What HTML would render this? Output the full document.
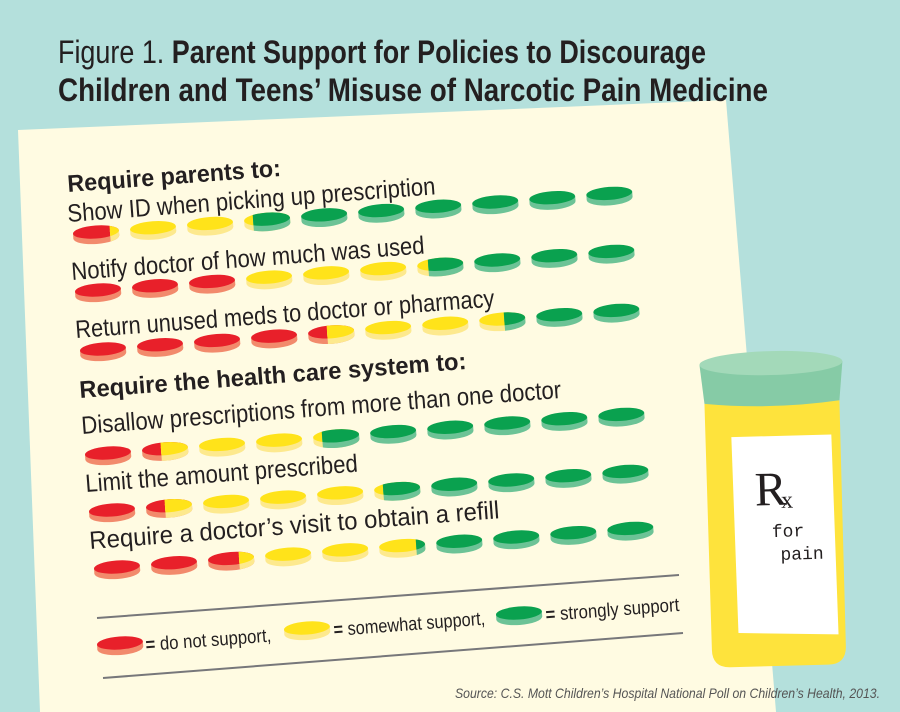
<!DOCTYPE html>
<html><head><meta charset="utf-8"><style>
html,body{margin:0;padding:0;}
body{width:900px;height:712px;overflow:hidden;background:#b4e0dc;}
svg{display:block;}
.n{font-family:"Liberation Sans Narrow","Liberation Sans",sans-serif;}
</style></head><body>
<svg width="900" height="712" viewBox="0 0 900 712" xmlns="http://www.w3.org/2000/svg">
<defs>
<g id="R"><ellipse cx="0" cy="4" rx="23" ry="7" fill="#f28a6c"/><rect x="-23" y="-1" width="46" height="5" fill="#f28a6c"/><ellipse cx="0" cy="-1" rx="23" ry="6.5" fill="#e8202a"/></g>
<g id="Y"><ellipse cx="0" cy="4" rx="23" ry="7" fill="#fde98e"/><rect x="-23" y="-1" width="46" height="5" fill="#fde98e"/><ellipse cx="0" cy="-1" rx="23" ry="6.5" fill="#ffe31a"/></g>
<g id="G"><ellipse cx="0" cy="4" rx="23" ry="7" fill="#6cc396"/><rect x="-23" y="-1" width="46" height="5" fill="#6cc396"/><ellipse cx="0" cy="-1" rx="23" ry="6.5" fill="#0aa14f"/></g>
<clipPath id="cm14"><rect x="-14" y="-20" width="50" height="40"/></clipPath>
<clipPath id="cm12"><rect x="-12" y="-20" width="50" height="40"/></clipPath>
<clipPath id="cm4"><rect x="-4" y="-20" width="50" height="40"/></clipPath>
<clipPath id="c2"><rect x="2" y="-20" width="50" height="40"/></clipPath>
<clipPath id="c8"><rect x="8" y="-20" width="50" height="40"/></clipPath>
<clipPath id="c14"><rect x="14" y="-20" width="50" height="40"/></clipPath>
</defs>

<polygon points="18,130 726,100 776,712 40,712" fill="#fffbe2"/>

<text x="58" y="63" class="n" font-size="32" fill="#231f20" textLength="648" lengthAdjust="spacingAndGlyphs"><tspan font-weight="normal">Figure 1. </tspan><tspan font-weight="bold">Parent Support for Policies to Discourage</tspan></text>
<text x="58" y="101" class="n" font-size="32" font-weight="bold" fill="#231f20" textLength="710" lengthAdjust="spacingAndGlyphs">Children and Teens’ Misuse of Narcotic Pain Medicine</text>

<!-- labels -->
<g class="n" fill="#231f20">
<text transform="translate(68,192) rotate(-4.3)" font-size="24" font-weight="bold" textLength="214" lengthAdjust="spacingAndGlyphs">Require parents to:</text>
<text transform="translate(68,222) rotate(-4.3)" font-size="25" textLength="369" lengthAdjust="spacingAndGlyphs">Show ID when picking up prescription</text>
<text transform="translate(72,280) rotate(-4.3)" font-size="25" textLength="354" lengthAdjust="spacingAndGlyphs">Notify doctor of how much was used</text>
<text transform="translate(76,338) rotate(-4.3)" font-size="25" textLength="420" lengthAdjust="spacingAndGlyphs">Return unused meds to doctor or pharmacy</text>
<text transform="translate(80,398) rotate(-4.3)" font-size="24" font-weight="bold" textLength="388" lengthAdjust="spacingAndGlyphs">Require the health care system to:</text>
<text transform="translate(82,434) rotate(-4.3)" font-size="25" textLength="481" lengthAdjust="spacingAndGlyphs">Disallow prescriptions from more than one doctor</text>
<text transform="translate(86,492) rotate(-4.3)" font-size="25" textLength="273" lengthAdjust="spacingAndGlyphs">Limit the amount prescribed</text>
<text transform="translate(90,549) rotate(-4.3)" font-size="25" textLength="411" lengthAdjust="spacingAndGlyphs">Require a doctor’s visit to obtain a refill</text>
</g>

<!-- row1 -->
<g transform="translate(96,233) rotate(-4.3)">
<g><use href="#R"/><use href="#Y" clip-path="url(#c14)"/></g>
<use href="#Y" x="57.2"/><use href="#Y" x="114.4"/>
<g transform="translate(171.6,0)"><use href="#Y"/><use href="#G" clip-path="url(#cm14)"/></g>
<use href="#G" x="228.8"/><use href="#G" x="286"/><use href="#G" x="343.2"/><use href="#G" x="400.4"/><use href="#G" x="457.6"/><use href="#G" x="514.8"/>
</g>
<!-- row2 -->
<g transform="translate(98,291) rotate(-4.3)">
<use href="#R"/><use href="#R" x="57.2"/><use href="#R" x="114.4"/><use href="#Y" x="171.6"/><use href="#Y" x="228.8"/><use href="#Y" x="286"/>
<g transform="translate(343.2,0)"><use href="#Y"/><use href="#G" clip-path="url(#cm12)"/></g>
<use href="#G" x="400.4"/><use href="#G" x="457.6"/><use href="#G" x="514.8"/>
</g>
<!-- row3 -->
<g transform="translate(103,350) rotate(-4.3)">
<use href="#R"/><use href="#R" x="57.2"/><use href="#R" x="114.4"/><use href="#R" x="171.6"/>
<g transform="translate(228.8,0)"><use href="#R"/><use href="#Y" clip-path="url(#cm4)"/></g>
<use href="#Y" x="286"/><use href="#Y" x="343.2"/>
<g transform="translate(400.4,0)"><use href="#Y"/><use href="#G" clip-path="url(#c2)"/></g>
<use href="#G" x="457.6"/><use href="#G" x="514.8"/>
</g>
<!-- row4 -->
<g transform="translate(108,454) rotate(-4.3)">
<use href="#R"/>
<g transform="translate(57.2,0)"><use href="#R"/><use href="#Y" clip-path="url(#cm4)"/></g>
<use href="#Y" x="114.4"/><use href="#Y" x="171.6"/>
<g transform="translate(228.8,0)"><use href="#Y"/><use href="#G" clip-path="url(#cm14)"/></g>
<use href="#G" x="286"/><use href="#G" x="343.2"/><use href="#G" x="400.4"/><use href="#G" x="457.6"/><use href="#G" x="514.8"/>
</g>
<!-- row5 -->
<g transform="translate(112,511) rotate(-4.3)">
<use href="#R"/>
<g transform="translate(57.2,0)"><use href="#R"/><use href="#Y" clip-path="url(#cm4)"/></g>
<use href="#Y" x="114.4"/><use href="#Y" x="171.6"/><use href="#Y" x="228.8"/>
<g transform="translate(286,0)"><use href="#Y"/><use href="#G" clip-path="url(#cm14)"/></g>
<use href="#G" x="343.2"/><use href="#G" x="400.4"/><use href="#G" x="457.6"/><use href="#G" x="514.8"/>
</g>
<!-- row6 -->
<g transform="translate(117,568) rotate(-4.3)">
<use href="#R"/><use href="#R" x="57.2"/>
<g transform="translate(114.4,0)"><use href="#R"/><use href="#Y" clip-path="url(#c8)"/></g>
<use href="#Y" x="171.6"/><use href="#Y" x="228.8"/>
<g transform="translate(286,0)"><use href="#Y"/><use href="#G" clip-path="url(#c14)"/></g>
<use href="#G" x="343.2"/><use href="#G" x="400.4"/><use href="#G" x="457.6"/><use href="#G" x="514.8"/>
</g>

<!-- legend -->
<line x1="97" y1="618" x2="679" y2="575" stroke="#77777a" stroke-width="2"/>
<line x1="103" y1="678" x2="683" y2="633" stroke="#77777a" stroke-width="2"/>
<g transform="translate(120,644) rotate(-4.3)"><use href="#R"/></g>
<g transform="translate(307,629) rotate(-4.3)"><use href="#Y"/></g>
<g transform="translate(519,614) rotate(-4.3)"><use href="#G"/></g>
<g class="n" fill="#231f20" font-size="19">
<text transform="translate(146,651) rotate(-4.3)" textLength="126" lengthAdjust="spacingAndGlyphs"><tspan font-weight="bold">=</tspan> do not support,</text>
<text transform="translate(334,636) rotate(-4.3)" textLength="152" lengthAdjust="spacingAndGlyphs"><tspan font-weight="bold">=</tspan> somewhat support,</text>
<text transform="translate(546,621) rotate(-4.3)" textLength="134" lengthAdjust="spacingAndGlyphs"><tspan font-weight="bold">=</tspan> strongly support</text>
</g>

<!-- bottle -->
<g transform="rotate(-1.5,775,500)">
<path d="M707,402 L842,402 L842,648 Q842,666 824,666 L726,666 Q708,666 708,648 Z" fill="#fee33c"/>
<path d="M733,436 L833,436 L835,636 L735,632 Z" fill="#ffffff"/>
<path d="M703,363 L846,363 L842,402 Q775,410 707,402 Z" fill="#86cba6"/>
<ellipse cx="774.5" cy="363" rx="71.5" ry="12" fill="#a3d9b9"/>
<text x="755" y="505" font-family="Liberation Serif,serif" font-size="48" fill="#231f20">R</text>
<text x="781" y="508" font-family="Liberation Serif,serif" font-size="24" fill="#231f20">x</text>
<text x="771" y="537" font-family="Liberation Mono,monospace" font-size="18" fill="#231f20">for</text>
<text x="779" y="560" font-family="Liberation Mono,monospace" font-size="18" fill="#231f20">pain</text>
</g>

<text x="880" y="698" text-anchor="end" font-family="Liberation Sans Narrow,Liberation Sans,sans-serif" font-style="italic" font-size="14" fill="#555" textLength="425" lengthAdjust="spacingAndGlyphs">Source: C.S. Mott Children’s Hospital National Poll on Children’s Health, 2013.</text>
</svg>
</body></html>
